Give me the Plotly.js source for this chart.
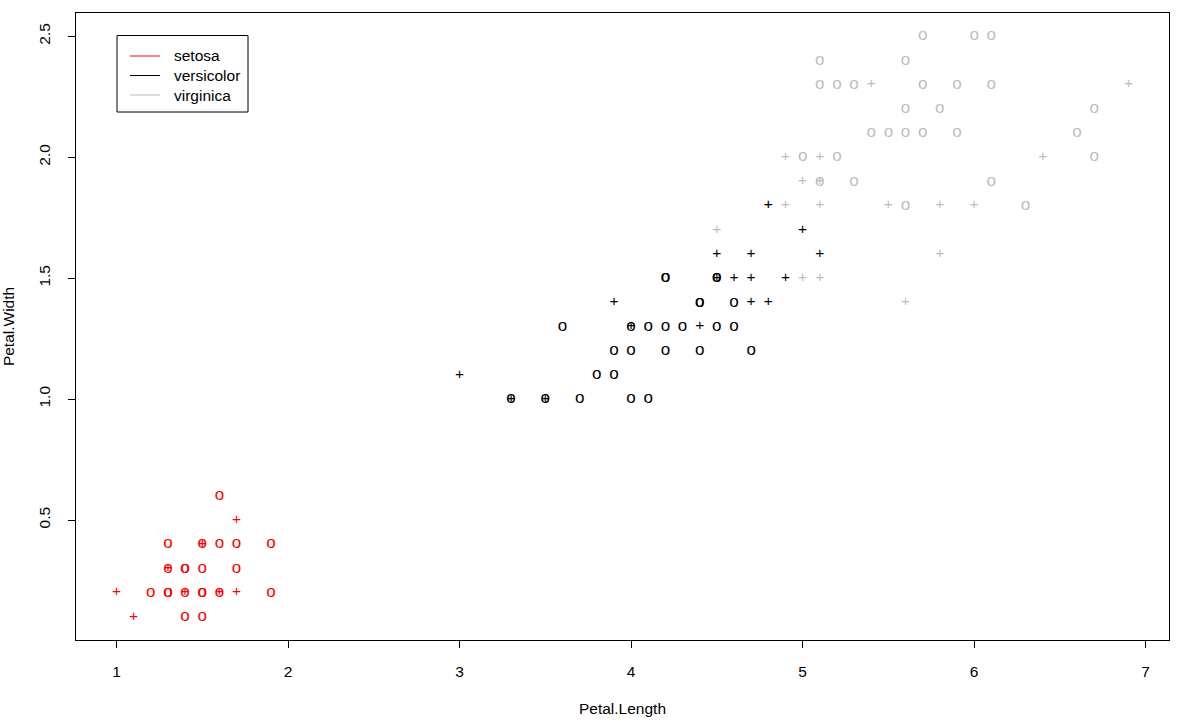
<!DOCTYPE html>
<html>
<head>
<meta charset="utf-8">
<script src="https://cdn.plot.ly/plotly-3.0.1.min.js"></script>
<style>html,body{margin:0;padding:0;background:#fff;}#chart{width:1178px;height:724px;}</style>
</head>
<body>
<div id="chart"></div>
<script>
// ---- data (Petal.Length, Petal.Width) ----
const species = ["setosa", "versicolor", "virginica"];
const speciesColors = ["#FF0000", "#000000", "#BEBEBE"];

// points drawn as "o"
const setosaOLength = [1.6, 1.3, 1.5, 1.6, 1.7, 1.9, 1.3, 1.4, 1.4, 1.5, 1.7, 1.2, 1.3, 1.3, 1.4, 1.5, 1.5, 1.6, 1.9, 1.4, 1.5];
const setosaOWidth  = [0.6, 0.4, 0.4, 0.4, 0.4, 0.4, 0.3, 0.3, 0.3, 0.3, 0.3, 0.2, 0.2, 0.2, 0.2, 0.2, 0.2, 0.2, 0.2, 0.1, 0.1];
// points drawn as "+"
const setosaPLength = [1.7, 1.5, 1.3, 1.0, 1.4, 1.6, 1.7, 1.1];
const setosaPWidth  = [0.5, 0.4, 0.3, 0.2, 0.2, 0.2, 0.2, 0.1];

const versicolorOLength = [3.3, 3.5, 3.7, 4.0, 4.1, 3.8, 3.9, 3.9, 4.0, 4.2, 4.4, 4.7, 3.6, 4.0, 4.1, 4.2, 4.3, 4.5, 4.6, 4.4, 4.4, 4.6, 4.2, 4.2, 4.5, 4.5];
const versicolorOWidth  = [1.0, 1.0, 1.0, 1.0, 1.0, 1.1, 1.1, 1.2, 1.2, 1.2, 1.2, 1.2, 1.3, 1.3, 1.3, 1.3, 1.3, 1.3, 1.3, 1.4, 1.4, 1.4, 1.5, 1.5, 1.5, 1.5];
const versicolorPLength = [3.3, 3.5, 3.0, 4.0, 4.4, 3.9, 4.7, 4.8, 4.5, 4.6, 4.7, 4.9, 4.5, 4.7, 5.1, 5.0, 4.8];
const versicolorPWidth  = [1.0, 1.0, 1.1, 1.3, 1.3, 1.4, 1.4, 1.4, 1.5, 1.5, 1.5, 1.5, 1.6, 1.6, 1.6, 1.7, 1.8];

const virginicaOLength = [5.7, 6.0, 6.1, 5.1, 5.6, 5.1, 5.2, 5.3, 5.7, 5.9, 6.1, 5.6, 5.8, 6.7, 5.4, 5.5, 5.6, 5.7, 5.9, 6.6, 5.0, 5.2, 6.7, 5.1, 5.3, 6.1, 5.6, 6.3];
const virginicaOWidth  = [2.5, 2.5, 2.5, 2.4, 2.4, 2.3, 2.3, 2.3, 2.3, 2.3, 2.3, 2.2, 2.2, 2.2, 2.1, 2.1, 2.1, 2.1, 2.1, 2.1, 2.0, 2.0, 2.0, 1.9, 1.9, 1.9, 1.8, 1.8];
const virginicaPLength = [5.4, 6.9, 4.9, 5.1, 6.4, 5.0, 5.1, 4.8, 4.9, 5.1, 5.5, 5.8, 6.0, 4.5, 5.8, 5.0, 5.1, 5.6];
const virginicaPWidth  = [2.3, 2.3, 2.0, 2.0, 2.0, 1.9, 1.9, 1.8, 1.8, 1.8, 1.8, 1.8, 1.8, 1.7, 1.6, 1.5, 1.5, 1.4];

const xTickVals = [1, 2, 3, 4, 5, 6, 7];
const xTickText = ["1", "2", "3", "4", "5", "6", "7"];
const yTickVals = [0.5, 1.0, 1.5, 2.0, 2.5];
const yTickText = ["0.5", "1.0", "1.5", "2.0", "2.5"];

// ---- helpers ----
const FONT = "'Liberation Sans', Arial, sans-serif";
const FS = 15.5;
const GLYPH_SIZE = {"o": 17, "+": 15.5};
function glyphTrace(xs, ys, ch, color, name) {
  return {
    type: "scatter", mode: "text", x: xs, y: ys,
    text: xs.map(() => ch), textposition: "middle center",
    textfont: {family: FONT, size: GLYPH_SIZE[ch], color: color},
    hoverinfo: "skip", showlegend: false, name: name, cliponaxis: false
  };
}

const traces = [
  glyphTrace(setosaOLength, setosaOWidth, "o", speciesColors[0], species[0]),
  glyphTrace(setosaPLength, setosaPWidth, "+", speciesColors[0], species[0]),
  glyphTrace(virginicaOLength, virginicaOWidth, "o", speciesColors[2], species[2]),
  glyphTrace(virginicaPLength, virginicaPWidth, "+", speciesColors[2], species[2]),
  glyphTrace(versicolorOLength, versicolorOWidth, "o", speciesColors[1], species[1]),
  glyphTrace(versicolorPLength, versicolorPWidth, "+", speciesColors[1], species[1])
];

// ---- layout geometry (pixels) ----
const W = 1178, H = 724;
const M = {l: 76, r: 9, t: 13, b: 84};
const PW = W - M.l - M.r, PH = H - M.t - M.b;
const px = v => (v - M.l) / PW;
const py = v => (H - M.b - v) / PH;

// legend drawn as shapes + text
const shapes = [
  {type: "rect", xref: "paper", yref: "paper", x0: px(117), x1: px(248), y0: py(112), y1: py(35.5),
   line: {color: "#000", width: 1}, fillcolor: "rgba(0,0,0,0)", layer: "above"}
];
const annotations = [];
const legendRowsY = [56, 75.5, 95];
species.forEach((s, i) => {
  shapes.push({type: "line", xref: "paper", yref: "paper", x0: px(130), x1: px(160),
    y0: py(legendRowsY[i]), y1: py(legendRowsY[i]), line: {color: speciesColors[i], width: 1}});
  annotations.push({xref: "paper", yref: "paper", x: px(172), y: py(legendRowsY[i]),
    xanchor: "left", yanchor: "middle", text: s, showarrow: false,
    font: {family: FONT, size: FS, color: "#000"}});
});

const axisCommon = {
  showgrid: false, zeroline: false, showline: true, mirror: true,
  linecolor: "#000", linewidth: 1, ticks: "outside", ticklen: 7, tickwidth: 1, tickcolor: "#000",
  tickfont: {family: FONT, size: FS, color: "#000"}, automargin: false, fixedrange: true
};

const layout = {
  width: W, height: H, margin: M,
  paper_bgcolor: "#fff", plot_bgcolor: "#fff", showlegend: false,
  xaxis: Object.assign({}, axisCommon, {
    range: [0.764, 7.136], tickmode: "array", tickvals: xTickVals, ticktext: xTickText,
    ticklabelstandoff: 10,
    title: {text: "Petal.Length", font: {family: FONT, size: FS, color: "#000"}, standoff: 24}
  }),
  yaxis: Object.assign({}, axisCommon, {
    range: [0.004, 2.596], tickmode: "array", tickvals: yTickVals, ticktext: yTickText,
    tickangle: -90, ticklabelstandoff: 12,
    title: {text: "Petal.Width", font: {family: FONT, size: FS, color: "#000"}, standoff: 22}
  }),
  shapes: shapes, annotations: annotations
};

Plotly.newPlot("chart", traces, layout, {displayModeBar: false, staticPlot: true});
</script>
</body>
</html>
